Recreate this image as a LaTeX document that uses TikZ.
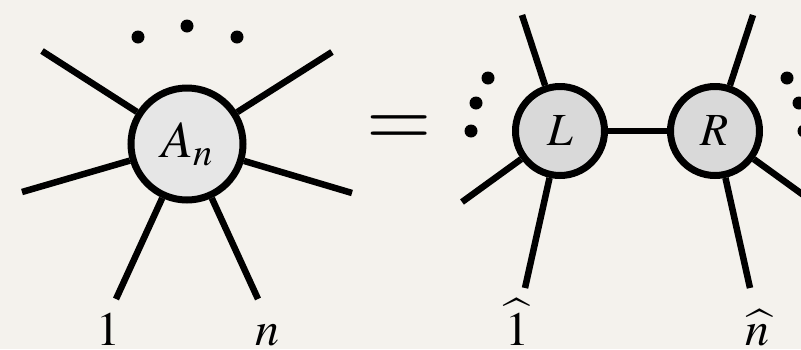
\documentclass[tikz,border=0pt]{standalone}
\usepackage{mathptmx}
\usepackage{tikz}

\definecolor{paper}{HTML}{F4F2ED}
\definecolor{blobA}{HTML}{E6E6E6}
\definecolor{blobB}{HTML}{D9D9D9}

\begin{document}
\begin{tikzpicture}[x=1pt,y=-1pt,line width=6.5pt,
	blob/.style={circle,draw,line width=7pt,inner sep=0pt},
	dot/.style={circle,fill,inner sep=0pt,minimum size=13pt},
	leg/.style={font=\fontsize{48}{48}\selectfont,anchor=base,inner sep=0pt}]

	\fill[paper] (0,0) rectangle (801,349);
	\useasboundingbox (0,0) rectangle (801,349);

	% left side
	\node at (187,144) [blob,fill=blobA,minimum size=112pt,font=\fontsize{52}{52}\selectfont] (a0) {$A_n$};

	\coordinate (e1) at (42,51);
	\coordinate (e2) at (332,52);
	\coordinate (e3) at (22,192);
	\coordinate (e4) at (352,193);
	\coordinate (e5) at (116,299);
	\coordinate (e6) at (258,299);

	\path[draw]
	(a0) edge (e1)
	(a0) edge (e2)
	(a0) edge (e3)
	(a0) edge (e4)
	(a0) edge (e5)
	(a0) edge (e6)
	;

	\node at (138,37) [dot] (d1) {};
	\node at (187,26) [dot] (d2) {};
	\node at (237,37) [dot] (d3) {};

	\node at (108,345) [leg] (n1) {$1$};
	\node at (267,345) [leg] (nn) {$n$};

	\node at (399,131) [font=\fontsize{84}{84}\selectfont] (eq) {$=$};

	% right side
	\node at (560,131) [blob,fill=blobB,minimum size=89pt,font=\fontsize{46}{46}\selectfont] (l0) {$L$};
	\node at (715,131) [blob,fill=blobB,minimum size=89pt,font=\fontsize{46}{46}\selectfont] (r0) {$R$};

	\coordinate (f1) at (522,15);
	\coordinate (f2) at (462,202);
	\coordinate (f3) at (525,288);
	\coordinate (g1) at (753,15);
	\coordinate (g2) at (813,202);
	\coordinate (g3) at (750,288);

	\path[draw]
	(l0) edge (r0)
	(l0) edge (f1)
	(l0) edge (f2)
	(l0) edge (f3)
	(r0) edge (g1)
	(r0) edge (g2)
	(r0) edge (g3)
	;

	\foreach \x/\y [count=\k] in {488/78,476/103,471/131}{
		\node at (\x,\y) [dot] (p\k) {};
		\node at (1275-\x,\y) [dot] (q\k) {};
	};

	\node at (517,345) [leg] (h1) {$\widehat{1}$};
	\node at (757,345) [leg] (hn) {$\widehat{n}$};

\end{tikzpicture}
\end{document}
